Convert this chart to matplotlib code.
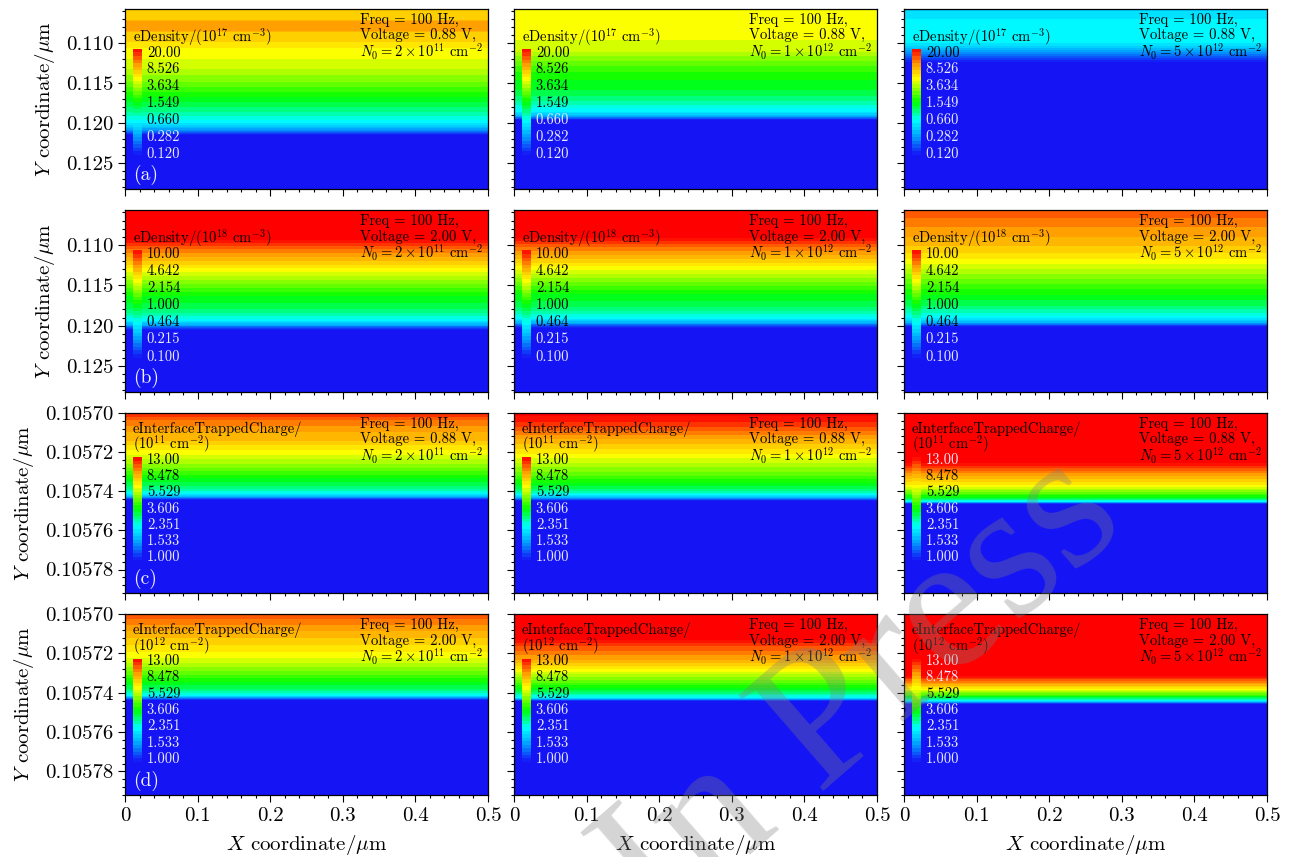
import numpy as np
import matplotlib
matplotlib.use("Agg")
import matplotlib.pyplot as plt
from matplotlib.colors import LinearSegmentedColormap, Normalize
from matplotlib.cm import ScalarMappable
from matplotlib.ticker import MultipleLocator, FormatStrFormatter, FuncFormatter

plt.rcParams['font.family'] = ['cmr10', 'DejaVu Serif']
plt.rcParams['mathtext.fontset'] = 'cm'
plt.rcParams['axes.formatter.use_mathtext'] = True

# ---------------- data ----------------
x_extent = [0.0, 0.5]

# row 1: eDensity (1e17 cm^-3), 0.88 V
y_r1c1 = [0.1057, 0.1070, 0.1073, 0.1083, 0.1087, 0.1099, 0.1106, 0.1130, 0.1146, 0.1164,
          0.1176, 0.1187, 0.1196, 0.1203, 0.1208, 0.1213, 0.1217, 0.1282]
v_r1c1 = [6.2, 6.6, 9.5, 9.5, 6.6, 6.0, 5.0, 3.8, 2.7, 1.7,
          1.2, 0.9, 0.66, 0.45, 0.28, 0.14, 0.08, 0.05]
y_r1c2 = [0.1057, 0.10963, 0.11088, 0.11213, 0.11338, 0.11463, 0.11613, 0.11713, 0.11788,
          0.11863, 0.11913, 0.1195, 0.11988, 0.1282]
v_r1c2 = [5.0, 4.3, 3.8, 2.6, 1.9, 1.55, 1.25, 0.95, 0.72, 0.55, 0.3, 0.14, 0.08, 0.05]
y_r1c3 = [0.1057, 0.10688, 0.10775, 0.10975, 0.11038, 0.11100, 0.1116, 0.11225, 0.1126, 0.1282]
v_r1c3 = [0.45, 0.55, 0.63, 0.62, 0.45, 0.3, 0.2, 0.13, 0.09, 0.05]

# row 2: eDensity (1e18 cm^-3), 2.00 V
y_r2c1 = [0.1057, 0.10925, 0.10975, 0.1105, 0.11125, 0.112, 0.113, 0.1145, 0.11638, 0.11825,
          0.11925, 0.11988, 0.12038, 0.12075, 0.1282]
v_r2c1 = [12.0, 11.0, 8.5, 6.3, 5.0, 4.0, 2.8, 1.74, 1.0, 0.69, 0.46, 0.25, 0.126, 0.08, 0.05]
y_r2c2 = [0.1057, 0.109, 0.1095, 0.11025, 0.111, 0.11175, 0.11275, 0.11425, 0.11613, 0.118,
          0.119, 0.11963, 0.12013, 0.1205, 0.1282]
v_r2c2 = [12.0, 11.0, 8.5, 6.3, 5.0, 4.0, 2.8, 1.74, 1.0, 0.69, 0.46, 0.25, 0.126, 0.08, 0.05]
y_r2c3 = [0.1057, 0.10675, 0.108, 0.1095, 0.11138, 0.11325, 0.11575, 0.11763, 0.11888,
          0.11963, 0.12013, 0.1205, 0.1282]
v_r2c3 = [7.2, 6.3, 5.2, 4.4, 3.2, 2.0, 1.1, 0.72, 0.46, 0.25, 0.1, 0.07, 0.05]

# row 3: eInterfaceTrappedCharge (1e11 cm^-2), 0.88 V
y_r3c1 = [0.105700, 0.1057037, 0.1057078, 0.105714, 0.1057202, 0.1057268, 0.1057335,
          0.1057381, 0.1057412, 0.1057427, 0.1057443, 0.1057453, 0.1058]
v_r3c1 = [12.0, 10.1, 8.85, 7.8, 6.3, 4.9, 3.6, 2.93, 2.33, 1.67, 1.0, 0.8, 0.6]
y_r3c2 = [0.105700, 0.1057047, 0.1057089, 0.105714, 0.1057202, 0.1057268, 0.105733,
          0.1057381, 0.1057412, 0.1057432, 0.1057448, 0.1057458, 0.1058]
v_r3c2 = [13.5, 12.0, 10.1, 8.2, 6.7, 5.3, 4.1, 3.2, 2.45, 1.67, 1.0, 0.8, 0.6]
y_r3c3 = [0.105700, 0.1057245, 0.1057276, 0.1057307, 0.1057335, 0.1057374, 0.1057404,
          0.1057427, 0.1057443, 0.1057453, 0.1057463, 0.1057473, 0.1058]
v_r3c3 = [15.0, 14.0, 11.4, 9.3, 7.8, 6.3, 4.66, 3.6, 2.79, 2.16, 1.14, 0.8, 0.6]

# row 4: eInterfaceTrappedCharge (1e12 cm^-2), 2.00 V
y_r4c1 = [0.105700, 0.1057041, 0.1057102, 0.1057153, 0.1057214, 0.105728, 0.1057346,
          0.1057387, 0.1057412, 0.1057427, 0.1057438, 0.1057448, 0.1058]
v_r4c1 = [10.9, 9.55, 8.2, 7.2, 6.3, 4.9, 3.6, 2.93, 2.33, 1.47, 1.0, 0.8, 0.6]
y_r4c2 = [0.105700, 0.1057127, 0.1057153, 0.1057188, 0.1057229, 0.105727, 0.105731,
          0.1057361, 0.1057402, 0.1057427, 0.1057443, 0.1057453, 0.1058]
v_r4c2 = [14.0, 13.2, 11.4, 10.1, 8.6, 7.0, 5.4, 4.0, 2.93, 2.16, 1.0, 0.8, 0.6]
y_r4c3 = [0.105700, 0.105731, 0.1057336, 0.1057361, 0.1057387, 0.1057412, 0.1057433,
          0.1057448, 0.1057458, 0.1057468, 0.1058]
v_r4c3 = [15.0, 14.0, 10.6, 8.2, 6.0, 4.1, 2.79, 1.67, 1.0, 0.8, 0.6]

profiles = [
    [(y_r1c1, v_r1c1), (y_r1c2, v_r1c2), (y_r1c3, v_r1c3)],
    [(y_r2c1, v_r2c1), (y_r2c2, v_r2c2), (y_r2c3, v_r2c3)],
    [(y_r3c1, v_r3c1), (y_r3c2, v_r3c2), (y_r3c3, v_r3c3)],
    [(y_r4c1, v_r4c1), (y_r4c2, v_r4c2), (y_r4c3, v_r4c3)],
]

cbar_min = [0.12, 0.1, 1.0, 1.0]
cbar_max = [20.0, 10.0, 13.0, 13.0]
cbar_ticklabels = [
    ['20.00', '8.526', '3.634', '1.549', '0.660', '0.282', '0.120'],
    ['10.00', '4.642', '2.154', '1.000', '0.464', '0.215', '0.100'],
    ['13.00', '8.478', '5.529', '3.606', '2.351', '1.533', '1.000'],
    ['13.00', '8.478', '5.529', '3.606', '2.351', '1.533', '1.000'],
]
cbar_titles = [
    [r'eDensity/(10$^{17}$ cm$^{-3}$)'],
    [r'eDensity/(10$^{18}$ cm$^{-3}$)'],
    ['eInterfaceTrappedCharge/', r'(10$^{11}$ cm$^{-2}$)'],
    ['eInterfaceTrappedCharge/', r'(10$^{12}$ cm$^{-2}$)'],
]
voltages = ['0.88', '2.00', '0.88', '2.00']
n0_labels = [r'2\times10^{11}', r'1\times10^{12}', r'5\times10^{12}']
panel_letters = ['(a)', '(b)', '(c)', '(d)']
ylims = [(0.1282, 0.1057), (0.1282, 0.1057), (0.105792, 0.10570), (0.105792, 0.10570)]
ytick_major = [0.005, 0.005, 0.00002, 0.00002]
ytick_minor = [0.001, 0.001, 0.000004, 0.000004]
ytick_fmt = ['%.3f', '%.3f', '%.5f', '%.5f']

# ---------------- style ----------------
BLUE = (0.08, 0.08, 0.96)
cmap = LinearSegmentedColormap.from_list('sv_rainbow', [
    (0.00, BLUE),
    (0.17, (0.00, 0.62, 1.00)),
    (0.33, (0.00, 1.00, 1.00)),
    (0.50, (0.00, 1.00, 0.00)),
    (0.72, (1.00, 1.00, 0.00)),
    (0.86, (1.00, 0.60, 0.00)),
    (1.00, (1.00, 0.00, 0.00)),
])
cmap.set_under(BLUE)
cmap.set_over((1.0, 0.0, 0.0))
n_levels = 31

W, H = 1292, 857
fig = plt.figure(figsize=(W / 100, H / 100), dpi=100)
col_left = [125, 514, 904]
col_w = 363
row_top = [9, 210, 413, 614]
row_h = [180, 182, 180, 181]

tick_fs = 15
label_fs = 15
small_fs = 10.5

for r in range(4):
    lo, hi = np.log10(cbar_min[r]), np.log10(cbar_max[r])
    levels = np.linspace(lo, hi, n_levels)
    for c in range(3):
        norm = Normalize(lo, hi)
        ax = fig.add_axes([col_left[c] / W, 1 - (row_top[r] + row_h[r]) / H,
                           col_w / W, row_h[r] / H])
        yv, vv = profiles[r][c]
        X, Y = np.meshgrid(x_extent, yv)
        Z = np.log10(np.tile(np.array(vv)[:, None], (1, len(x_extent))))
        ax.contourf(X, Y, Z, levels=levels, cmap=cmap, norm=norm, extend='both',
                    antialiased=False)
        ax.set_xlim(0, 0.5)
        ax.set_ylim(*ylims[r])

        ax.xaxis.set_major_locator(MultipleLocator(0.1))
        ax.xaxis.set_minor_locator(MultipleLocator(0.02))
        ax.yaxis.set_major_locator(MultipleLocator(ytick_major[r]))
        ax.yaxis.set_minor_locator(MultipleLocator(ytick_minor[r]))
        ax.yaxis.set_major_formatter(FormatStrFormatter(ytick_fmt[r]))
        ax.xaxis.set_major_formatter(FuncFormatter(lambda v, p: '%g' % round(v, 3)))
        ax.tick_params(which='both', direction='out', top=False, right=False,
                       labelsize=tick_fs, width=0.8)
        ax.tick_params(which='major', length=5)
        ax.tick_params(which='minor', length=2.5)
        if c != 0:
            ax.tick_params(labelleft=False)
        else:
            ax.set_ylabel(r'$Y$ coordinate/$\mu$m', fontsize=label_fs, labelpad=6)
        if r != 3:
            ax.tick_params(labelbottom=False)
        else:
            ax.set_xlabel(r'$X$ coordinate/$\mu$m', fontsize=label_fs, labelpad=6)
        for sp in ax.spines.values():
            sp.set_linewidth(0.9)

        # inset colorbar
        two_line = len(cbar_titles[r]) == 2
        if two_line:
            cb_rect = [0.022, 0.183, 0.025, 0.571]
            lab_top, lab_bot = 0.739, 0.198
            title_y = [0.910, 0.825]
        else:
            cb_rect = [0.022, 0.189, 0.025, 0.589]
            lab_top, lab_bot = 0.757, 0.194
            title_y = [0.844]
        cax = ax.inset_axes(cb_rect)
        sm = ScalarMappable(norm=Normalize(lo, hi), cmap=cmap)
        cb = fig.colorbar(sm, cax=cax, boundaries=levels,
                          values=0.5 * (levels[1:] + levels[:-1]))
        cb.outline.set_visible(False)
        cb.set_ticks([])
        cb.minorticks_off()
        cax.set_xticks([])

        for t, ty in zip(cbar_titles[r], title_y):
            ax.text(0.022, ty, t, transform=ax.transAxes, fontsize=small_fs,
                    ha='left', va='center', color='black')
        ylo, yhi = ax.get_ylim()
        lab_pos = np.linspace(lab_top, lab_bot, len(cbar_ticklabels[r]))
        for lbl, fy in zip(cbar_ticklabels[r], lab_pos):
            ydata = ylo + fy * (yhi - ylo)
            bg = np.interp(ydata, yv, np.log10(vv))
            rgb = cmap(norm(bg))
            lum = 0.299 * rgb[0] + 0.587 * rgb[1] + 0.114 * rgb[2]
            col = 'black' if lum > 0.45 else (0.92, 0.92, 1.0)
            ax.text(0.06, fy, lbl, transform=ax.transAxes, fontsize=small_fs,
                    ha='left', va='center', color=col)

        ann = ['Freq = 100 Hz,', 'Voltage = %s V,' % voltages[r],
               r'$N_0 = %s$ cm$^{-2}$' % n0_labels[c]]
        for line, ty in zip(ann, [0.941, 0.853, 0.763]):
            ax.text(0.647, ty, line, transform=ax.transAxes, fontsize=small_fs,
                    ha='left', va='center', color='black')
        if c == 0:
            ax.text(0.022, 0.077, panel_letters[r], transform=ax.transAxes,
                    fontsize=14, ha='left', va='center', color=(0.95, 0.95, 1.0))

# watermark
fig.text(0.668, 0.19, 'In Press', rotation=41, fontsize=140, color='#808080',
         alpha=0.33, family='Liberation Serif', ha='center', va='center')

fig.savefig('out.png', dpi=100)
